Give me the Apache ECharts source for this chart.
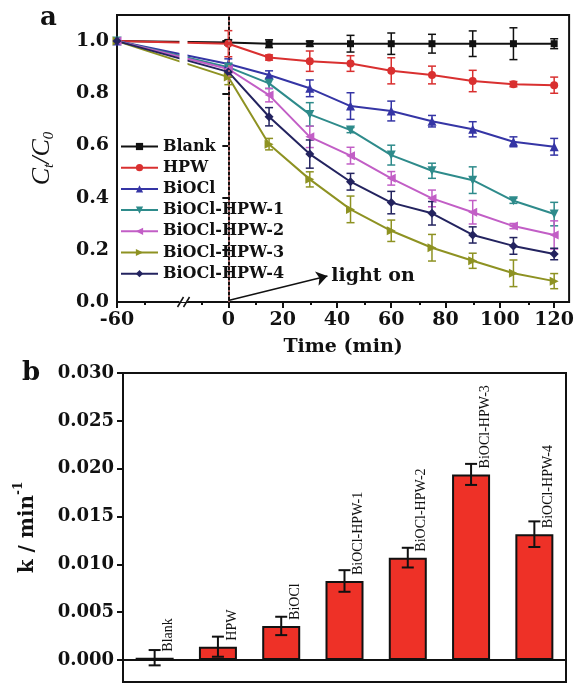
<!DOCTYPE html>
<html><head><meta charset="utf-8">
<script src="https://cdn.jsdelivr.net/npm/echarts@6/dist/echarts.min.js"></script>
<style>html,body{margin:0;padding:0;background:#fff}#c{width:577px;height:683px}</style>
</head><body><div id="c"></div>
<script>
// ---------- Panel a data ----------
const times = [-60, 0, 15, 30, 45, 60, 75, 90, 105, 120];
const seriesNames = ['Blank', 'HPW', 'BiOCl', 'BiOCl-HPW-1', 'BiOCl-HPW-2', 'BiOCl-HPW-3', 'BiOCl-HPW-4'];
const blank    = [1.0, 0.995, 0.99, 0.99, 0.99, 0.99, 0.99, 0.99, 0.99, 0.99];
const blankErr = [0, 0.01, 0.015, 0.01, 0.032, 0.041, 0.036, 0.049, 0.061, 0.019];
const hpw      = [1.0, 0.99, 0.937, 0.923, 0.914, 0.886, 0.870, 0.847, 0.835, 0.831];
const hpwErr   = [0, 0.05, 0.01, 0.039, 0.03, 0.05, 0.034, 0.041, 0.01, 0.031];
const biocl    = [1.0, 0.912, 0.870, 0.819, 0.751, 0.732, 0.693, 0.662, 0.614, 0.595];
const bioclErr = [0, 0.02, 0.016, 0.032, 0.051, 0.038, 0.022, 0.029, 0.019, 0.032];
const hpw1     = [1.0, 0.90, 0.838, 0.719, 0.659, 0.563, 0.503, 0.467, 0.388, 0.337];
const hpw1Err  = [0, 0.015, 0.02, 0.045, 0.01, 0.038, 0.029, 0.051, 0.01, 0.045];
const hpw2     = [1.0, 0.893, 0.793, 0.633, 0.561, 0.474, 0.397, 0.344, 0.291, 0.257];
const hpw2Err  = [0, 0.015, 0.026, 0.041, 0.032, 0.026, 0.032, 0.045, 0.01, 0.054];
const hpw3     = [1.0, 0.862, 0.605, 0.470, 0.355, 0.273, 0.208, 0.158, 0.110, 0.080];
const hpw3Err  = [0, 0.029, 0.022, 0.029, 0.051, 0.041, 0.051, 0.029, 0.051, 0.029];
const hpw4     = [1.0, 0.882, 0.710, 0.567, 0.461, 0.381, 0.340, 0.257, 0.215, 0.184];
const hpw4Err  = [0, 0.02, 0.035, 0.054, 0.032, 0.043, 0.045, 0.031, 0.032, 0.022];
const xTickValues = [-60, 0, 20, 40, 60, 80, 100, 120];
const xMinorTickValues = [-50, -10, 10, 30, 50, 70, 90, 110];
const yTickValuesA = [0, 0.2, 0.4, 0.6, 0.8, 1.0];

// ---------- Panel b data ----------
const kCategories = ['Blank', 'HPW', 'BiOCl', 'BiOCl-HPW-1', 'BiOCl-HPW-2', 'BiOCl-HPW-3', 'BiOCl-HPW-4'];
const kValues = [0.00024, 0.00139, 0.00356, 0.00826, 0.0107, 0.0194, 0.01315];
const kErr    = [0.0008, 0.00105, 0.00096, 0.00113, 0.00103, 0.0011, 0.00134];
const yTickValuesB = [0, 0.005, 0.010, 0.015, 0.020, 0.025, 0.030];

// ---------- styles ----------
const colors = ['#111111', '#d93030', '#3535a5', '#2e8b8b', '#c25ec6', '#8e9222', '#23235f'];
const symbols = ['rect', 'circle', 'triangle', 'triangle', 'triangle', 'triangle', 'diamond'];
const symbolRotates = [0, 0, 0, 180, 90, -90, 0];
const values = [blank, hpw, biocl, hpw1, hpw2, hpw3, hpw4];
const errs = [blankErr, hpwErr, bioclErr, hpw1Err, hpw2Err, hpw3Err, hpw4Err];

const boldSerif = {fontFamily: 'DejaVu Serif', fontWeight: 'bold', color: '#111'};
const brk = [{start: -37, end: -15, gap: 3}];

function errorBar(name, xIdx, yIdx, data, color, cap, width) {
  return {
    name: name, type: 'custom', xAxisIndex: xIdx, yAxisIndex: yIdx, silent: true, z: 3,
    data: data,
    renderItem: function (params, api) {
      const x = api.value(0), lo = api.value(1), hi = api.value(2);
      const p1 = api.coord([x, hi]), p2 = api.coord([x, lo]);
      const st = {stroke: color, lineWidth: width};
      return {type: 'group', children: [
        {type: 'line', shape: {x1: p1[0], y1: p1[1], x2: p2[0], y2: p2[1]}, style: st},
        {type: 'line', shape: {x1: p1[0] - cap, y1: p1[1], x2: p1[0] + cap, y2: p1[1]}, style: st},
        {type: 'line', shape: {x1: p2[0] - cap, y1: p2[1], x2: p2[0] + cap, y2: p2[1]}, style: st}
      ]};
    }
  };
}

const series = [];
values.forEach(function (vals, i) {
  series.push(errorBar(seriesNames[i] + ' err', 0, 0,
    times.map(function (t, j) { return [t, vals[j] - errs[i][j], vals[j] + errs[i][j]]; }),
    colors[i], 4, 1.5));
});
values.forEach(function (vals, i) {
  const s = {
    name: seriesNames[i], type: 'line', xAxisIndex: 0, yAxisIndex: 0, z: 4,
    data: times.map(function (t, j) { return [t, vals[j]]; }),
    symbol: symbols[i], symbolRotate: symbolRotates[i],
    symbolSize: symbols[i] === 'rect' ? 7 : (symbols[i] === 'circle' ? 8 : 9),
    lineStyle: {color: colors[i], width: 2},
    itemStyle: {color: colors[i]},
    emphasis: {disabled: true}
  };
  if (i === 1) {
    s.markLine = {
      silent: true, symbol: 'none', label: {show: false},
      data: [
        {xAxis: 0, symbol: 'none', lineStyle: {color: '#cc7a7a', type: [2, 3], width: 1.5}},
        [{coord: [0, 0.006], symbol: 'none', lineStyle: {color: '#111', type: 'solid', width: 1.5}},
         {coord: [36.5, 0.1], symbol: 'arrow', symbolSize: 11, itemStyle: {color: '#111'}}]
      ]
    };
    s.markPoint = {
      silent: true, symbol: 'rect', symbolSize: 1, itemStyle: {color: 'rgba(0,0,0,0)'},
      label: Object.assign({show: true, position: 'right', distance: 2, formatter: 'light on', fontSize: 19}, boldSerif),
      data: [{coord: [37, 0.1]}]
    };
  }
  series.push(s);
});

series.push({
  name: 'k', type: 'bar', xAxisIndex: 1, yAxisIndex: 1, barWidth: 38, z: 2,
  data: kValues,
  itemStyle: {color: '#ee3127', borderColor: '#111', borderWidth: 2},
  label: {
    show: true, position: 'top', rotate: 90, align: 'left', verticalAlign: 'middle',
    distance: 6, offset: [0, 14],
    formatter: function (p) { return kCategories[p.dataIndex]; },
    fontFamily: 'Liberation Serif', fontSize: 14, color: '#111'
  },
  emphasis: {disabled: true}
});
series.push(errorBar('k err', 1, 1,
  kValues.map(function (v, j) { return [j, v - kErr[j], v + kErr[j]]; }), '#111', 6, 2));

const panelLabels = [
  {type: 'text', left: 40, top: 5, style: {text: 'a', fontFamily: 'DejaVu Serif', fontWeight: 'bold', fontSize: 26, fill: '#111'}},
  {type: 'text', left: 22, top: 360, style: {text: 'b', fontFamily: 'DejaVu Serif', fontWeight: 'bold', fontSize: 26, fill: '#111'}}
];

const option = {
  animation: false,
  backgroundColor: '#fff',
  grid: [
    {left: 117, top: 15, width: 454, height: 287, show: true, borderColor: '#111', borderWidth: 2, backgroundColor: 'transparent'},
    {left: 123, top: 373, width: 443, height: 309, show: true, borderColor: '#111', borderWidth: 2, backgroundColor: 'transparent'},
    {left: 117, top: 15, width: 454, height: 287, show: false}
  ],
  legend: {
    data: seriesNames, orient: 'vertical', left: 120, top: 138, z: 60, padding: 0,
    itemWidth: 37, itemHeight: 9, itemGap: 4.2,
    textStyle: Object.assign({fontSize: 16, lineHeight: 17}, boldSerif),
    selectedMode: false
  },
  xAxis: [
    {
      gridIndex: 0, type: 'value', min: -60, max: 125.5, position: 'bottom',
      breaks: brk,
      breakArea: {show: true, itemStyle: {color: '#fff', borderColor: '#fff', borderWidth: 0, opacity: 1}, zigzagAmplitude: 0, zigzagZ: 50},
      axisLine: {show: true, lineStyle: {color: '#111', width: 2}},
      axisTick: {show: true, customValues: xTickValues, length: 6, lineStyle: {width: 2, color: '#111'}},
      axisLabel: Object.assign({customValues: xTickValues, fontSize: 19, margin: 9}, boldSerif),
      splitLine: {show: false},
      name: 'Time (min)', nameLocation: 'middle', nameGap: 36,
      nameTextStyle: Object.assign({fontSize: 19}, boldSerif)
    },
    {
      gridIndex: 1, type: 'category', data: kCategories, boundaryGap: true,
      axisLine: {show: true, lineStyle: {color: '#111', width: 2}},
      axisTick: {show: false}, axisLabel: {show: false}
    },
    {
      gridIndex: 2, type: 'value', min: -60, max: 125.5, breaks: brk,
      breakArea: {show: false},
      axisLine: {show: false},
      axisTick: {show: true, customValues: xMinorTickValues, length: 3, lineStyle: {width: 2, color: '#111'}},
      axisLabel: {show: false, customValues: xMinorTickValues},
      splitLine: {show: false}
    },
    {
      gridIndex: 0, type: 'value', min: -60, max: 125.5, position: 'top', z: 60,
      axisLine: {show: true, lineStyle: {color: '#111', width: 2}},
      axisTick: {show: false}, axisLabel: {show: false}, splitLine: {show: false}
    }
  ],
  yAxis: [
    {
      gridIndex: 0, type: 'value', min: 0, max: 1.1,
      axisLine: {show: true, lineStyle: {color: '#111', width: 2}},
      axisTick: {show: true, customValues: yTickValuesA, length: 6, lineStyle: {width: 2, color: '#111'}},
      axisLabel: Object.assign({customValues: yTickValuesA, fontSize: 19, margin: 8,
        formatter: function (v) { return v.toFixed(1); }}, boldSerif),
      splitLine: {show: false},
      name: '{c|C}{s|t}{c|/C}{s|0}', nameLocation: 'middle', nameGap: 60, nameRotate: 90,
      nameTextStyle: {rich: {
        c: {fontFamily: 'Liberation Serif', fontStyle: 'italic', fontSize: 26, lineHeight: 30, color: '#111'},
        s: {fontFamily: 'Liberation Serif', fontStyle: 'italic', fontSize: 15, lineHeight: 14, verticalAlign: 'bottom', color: '#111'}
      }}
    },
    {
      gridIndex: 1, type: 'value', min: -0.0023, max: 0.030,
      axisLine: {show: true, lineStyle: {color: '#111', width: 2}},
      axisTick: {show: true, customValues: yTickValuesB, length: 6, lineStyle: {width: 2, color: '#111'}},
      axisLabel: Object.assign({customValues: yTickValuesB, fontSize: 18, margin: 9,
        formatter: function (v) { return v.toFixed(3); }}, boldSerif),
      splitLine: {show: false},
      name: '{a|k / min}{u|-1}', nameLocation: 'middle', nameGap: 80, nameRotate: 90,
      nameTextStyle: {rich: {
        a: {fontFamily: 'DejaVu Serif', fontWeight: 'bold', fontSize: 20, lineHeight: 30, color: '#111'},
        u: {fontFamily: 'DejaVu Serif', fontWeight: 'bold', fontSize: 12, lineHeight: 14, verticalAlign: 'top', color: '#111'}
      }}
    },
    {gridIndex: 2, type: 'value', min: 0, max: 1.1, show: false}
  ],
  graphic: panelLabels,
  series: series
};

const chart = echarts.init(document.getElementById('c'));
chart.setOption(option);

// axis-break "//" marks, placed at the break position given by the axis itself
const bx1 = chart.convertToPixel({xAxisIndex: 0}, brk[0].start);
const bx2 = chart.convertToPixel({xAxisIndex: 0}, brk[0].end);
const by = chart.convertToPixel({yAxisIndex: 0}, 0);
const bc = (bx1 + bx2) / 2;
chart.setOption({graphic: panelLabels.concat([
  {type: 'line', z: 100, shape: {x1: bc - 6, y1: by + 5, x2: bc, y2: by - 5}, style: {stroke: '#111', lineWidth: 1.5}},
  {type: 'line', z: 100, shape: {x1: bc, y1: by + 5, x2: bc + 6, y2: by - 5}, style: {stroke: '#111', lineWidth: 1.5}}
])});
</script>
</body></html>
